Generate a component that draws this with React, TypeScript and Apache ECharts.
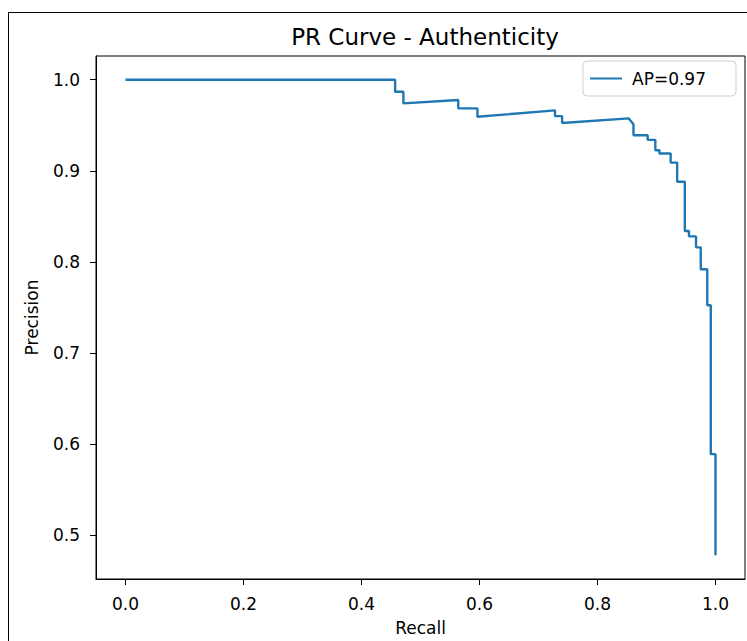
import React, { useEffect, useRef } from "react";
import * as echarts from "echarts";

const recallValues = [
  0, 0.457, 0.457, 0.471, 0.471, 0.564, 0.564, 0.5965, 0.5965, 0.728, 0.728, 0.74, 0.74,
  0.853, 0.861, 0.861, 0.885, 0.885, 0.898, 0.898, 0.905, 0.905, 0.924, 0.924, 0.935,
  0.935, 0.948, 0.948, 0.955, 0.955, 0.967, 0.967, 0.975, 0.975, 0.986, 0.986, 0.992,
  0.992, 1.0, 1.0,
];
const precisionValues = [
  1.0, 1.0, 0.9867, 0.9867, 0.974, 0.9777, 0.9685, 0.9685, 0.9593, 0.9663, 0.96, 0.96,
  0.9525, 0.9575, 0.951, 0.939, 0.939, 0.934, 0.934, 0.9226, 0.9226, 0.919, 0.919, 0.909,
  0.909, 0.888, 0.888, 0.834, 0.834, 0.828, 0.828, 0.816, 0.816, 0.792, 0.792, 0.7525,
  0.7525, 0.589, 0.589, 0.478,
];
const xTicks = [0, 0.2, 0.4, 0.6, 0.8, 1.0];
const yTicks = [0.5, 0.6, 0.7, 0.8, 0.9, 1.0];
const seriesName = "AP=0.97";
const titleText = "PR Curve - Authenticity";

const FONT = "DejaVu Sans";

export default function App() {
  const ref = useRef<HTMLDivElement>(null);
  useEffect(() => {
    if (!ref.current) return;
    const chart = echarts.init(ref.current, undefined, { renderer: "svg" });
    const data = recallValues.map((r, i) => [r, precisionValues[i]]);
    chart.setOption({
      animation: false,
      backgroundColor: "#fff",
      textStyle: { fontFamily: FONT, color: "#000" },
      title: {
        text: titleText,
        left: 420,
        textAlign: "center",
        top: 20,
        textStyle: { fontFamily: FONT, fontSize: 23, fontWeight: "normal", color: "#000" },
      },
      graphic: [
        {
          type: "rect",
          shape: { x: 8.5, y: 12.5, width: 900, height: 800 },
          style: { fill: "none", stroke: "#000", lineWidth: 1 },
          silent: true,
          z: -1,
        },
      ],
      legend: {
        data: [seriesName],
        left: 583,
        top: 61,
        icon: "rect",
        itemWidth: 32,
        itemHeight: 2,
        itemGap: 10,
        padding: [9, 30, 9, 7],
        borderColor: "#d0d0d0",
        borderWidth: 1,
        borderRadius: 4,
        textStyle: { fontFamily: FONT, fontSize: 17, color: "#000", padding: [0, 0, 0, 5] },
      },
      grid: {
        left: 96,
        top: 56,
        right: 2,
        bottom: 62,
        show: true,
        borderColor: "#000",
        borderWidth: 1,
        backgroundColor: "transparent",
      },
      xAxis: {
        type: "value",
        min: -0.05,
        max: 1.05,
        name: "Recall",
        nameLocation: "middle",
        nameGap: 40,
        nameTextStyle: { fontFamily: FONT, fontSize: 17, color: "#000" },
        axisLine: { show: true, onZero: false, lineStyle: { color: "#000", width: 1 } },
        axisTick: { show: true, length: 6, customValues: xTicks, lineStyle: { color: "#000" } },
        axisLabel: {
          customValues: xTicks,
          margin: 16,
          fontFamily: FONT,
          fontSize: 17,
          color: "#000",
          formatter: (v: number) => v.toFixed(1),
        },
        splitLine: { show: false },
      },
      yAxis: {
        type: "value",
        min: 0.452,
        max: 1.026,
        name: "Precision",
        nameLocation: "middle",
        nameGap: 56,
        nameTextStyle: { fontFamily: FONT, fontSize: 17, color: "#000" },
        axisLine: { show: true, onZero: false, lineStyle: { color: "#000", width: 1 } },
        axisTick: { show: true, length: 6, customValues: yTicks, lineStyle: { color: "#000" } },
        axisLabel: {
          customValues: yTicks,
          margin: 16,
          fontFamily: FONT,
          fontSize: 17,
          color: "#000",
          formatter: (v: number) => v.toFixed(1),
        },
        splitLine: { show: false },
      },
      series: [
        {
          name: seriesName,
          type: "line",
          data,
          showSymbol: false,
          symbol: "none",
          color: "#1f77b4",
          lineStyle: { width: 2.4, color: "#1f77b4" },
        },
      ],
    });
    return () => chart.dispose();
  }, []);
  return (
    <div
      ref={ref}
      style={{ position: "fixed", left: 0, top: 0, width: 747, height: 641 }}
    />
  );
}
